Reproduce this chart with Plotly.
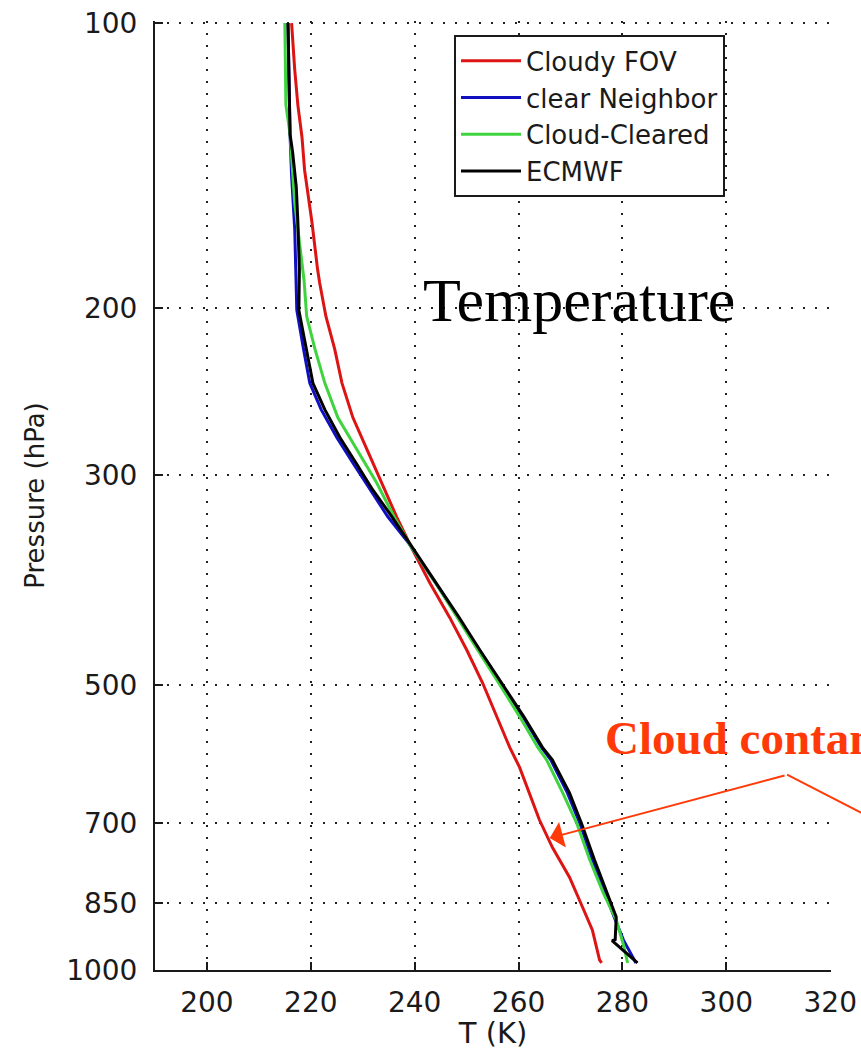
import math
import plotly.graph_objects as go

# Temperature profiles (T in K on pressure levels in hPa)
p_cloudy = [100, 112, 122, 132, 143, 162, 182, 188, 204, 221, 240, 261, 282, 306, 332,
            360, 390, 424, 459, 498, 540, 582, 611, 694, 742, 798, 858, 907, 976, 983]
t_cloudy = [216.3, 216.9, 217.5, 218.3, 218.8, 220.2, 221.3, 221.7, 222.9, 224.6, 226.0,
            228.1, 230.8, 233.7, 236.5, 239.6, 242.9, 246.7, 250.0, 253.1, 255.8, 258.3,
            260.2, 264.0, 266.5, 269.8, 272.3, 274.2, 275.6, 276.0]

p_neighbor = [100, 131, 145, 165, 182, 201, 221, 240, 256, 274, 292, 311, 332, 354, 390,
              424, 459, 498, 540, 582, 600, 650, 700, 765, 829, 879, 930, 983]
t_neighbor = [215.6, 216.0, 216.3, 216.9, 217.1, 217.3, 218.6, 219.8, 222.0, 225.0, 228.2,
              231.4, 234.8, 238.8, 244.0, 248.3, 252.4, 256.5, 260.8, 264.4, 266.2, 269.4,
              271.8, 274.2, 276.6, 278.4, 280.2, 282.6]

p_cleared = [100, 122, 131, 145, 155, 187, 204, 221, 240, 261, 282, 306, 332, 358, 390,
             424, 459, 498, 540, 582, 600, 650, 700, 765, 829, 885, 941, 983]
t_cleared = [215.0, 215.2, 216.0, 216.5, 216.9, 218.7, 219.2, 220.8, 222.7, 225.2, 228.8,
             232.7, 236.0, 239.4, 244.0, 248.1, 252.1, 256.2, 260.2, 263.7, 265.4, 268.5,
             271.2, 273.7, 276.3, 278.8, 280.2, 281.0]

p_ecmwf = [100, 131, 137, 149, 162, 182, 201, 221, 240, 256, 274, 292, 311, 332, 354,
           390, 424, 459, 498, 540, 582, 600, 650, 700, 765, 829, 879, 929, 931, 983]
t_ecmwf = [215.6, 216.0, 216.5, 217.2, 217.5, 217.8, 217.7, 219.2, 220.4, 222.7, 225.6,
           228.8, 231.9, 235.6, 239.0, 244.2, 248.5, 252.5, 256.7, 261.0, 264.6, 266.5,
           269.8, 272.1, 274.6, 277.1, 278.8, 278.6, 278.0, 282.9]

x_ticks = [200, 220, 240, 260, 280, 300, 320]
y_ticks = [100, 200, 300, 500, 700, 850, 1000]

series = [
    ("Cloudy FOV", t_cloudy, p_cloudy, "#DD1414"),
    ("clear Neighbor", t_neighbor, p_neighbor, "#1010C0"),
    ("Cloud-Cleared", t_cleared, p_cleared, "#3FD43F"),
    ("ECMWF", t_ecmwf, p_ecmwf, "#000000"),
]

fig = go.Figure()
for name, t, p, color in series:
    fig.add_trace(go.Scatter(x=t, y=p, mode="lines", name=name,
                             line=dict(color=color, width=3)))

sans = "DejaVu Sans"
serif = "Liberation Serif"
accent = "#FF3A08"
ink = "#1a1a1a"

fig.update_layout(
    width=861, height=1050,
    margin=dict(l=155, r=30, t=21, b=80, autoexpand=False),
    paper_bgcolor="white", plot_bgcolor="white",
    font=dict(family=sans, size=28, color=ink),
    showlegend=True,
    legend=dict(x=0.4423, y=0.985, xanchor="left", yanchor="top",
                bgcolor="white", bordercolor=ink, borderwidth=2,
                font=dict(family=sans, size=26, color=ink),
                itemwidth=60, tracegroupgap=0),
    # ranges nudged a hair past the last ticks so the edge grid lines stay visible
    xaxis=dict(range=[190, 320.15], tickvals=x_ticks, ticks="inside", ticklen=8,
               tickwidth=1.5, tickcolor=ink, showline=True, linecolor=ink,
               linewidth=2, mirror=False, showgrid=True, gridcolor="#222",
               gridwidth=1.5, griddash="2px,10px", zeroline=False,
               ticklabelstandoff=6, automargin=False,
               title=dict(text="T (K)", font=dict(family=sans, size=29), standoff=4)),
    yaxis=dict(type="log", range=[math.log10(1000), math.log10(99.5)],
               tickvals=y_ticks, ticktext=[str(v) for v in y_ticks],
               ticks="inside", ticklen=8, tickwidth=1.5, tickcolor=ink,
               showline=True, linecolor=ink, linewidth=2, mirror=False,
               showgrid=True, gridcolor="#222", gridwidth=1.5, griddash="2px,10px",
               zeroline=False, ticklabelstandoff=10, automargin=False,
               title=dict(text="Pressure (hPa)", font=dict(family=sans, size=26),
                          standoff=14)),
)

# Panel label
fig.add_annotation(xref="paper", yref="paper", x=0.393, y=0.706,
                   xanchor="left", yanchor="middle", showarrow=False,
                   text="Temperature",
                   font=dict(family=serif, size=62, color="black"))

# Callout text and arrow pointing at the cloudy profile
fig.add_annotation(xref="paper", yref="paper", x=0.662, y=0.2442,
                   xanchor="left", yanchor="middle", showarrow=False,
                   text="<b>Cloud contamination</b>",
                   font=dict(family=serif, size=47, color=accent))
fig.add_annotation(xref="x", yref="y", axref="x", ayref="y",
                   x=266.0, y=math.log10(725.5),
                   ax=311.5, ay=math.log10(622.5),
                   text="", showarrow=True, arrowhead=1, arrowsize=2.2,
                   arrowwidth=2, arrowcolor=accent, standoff=0, startstandoff=0)
fig.add_shape(type="line", xref="paper", yref="paper",
              x0=0.935, y0=0.2059, x1=1.102, y1=0.1447,
              line=dict(color=accent, width=2))

fig.write_html("out.html")
